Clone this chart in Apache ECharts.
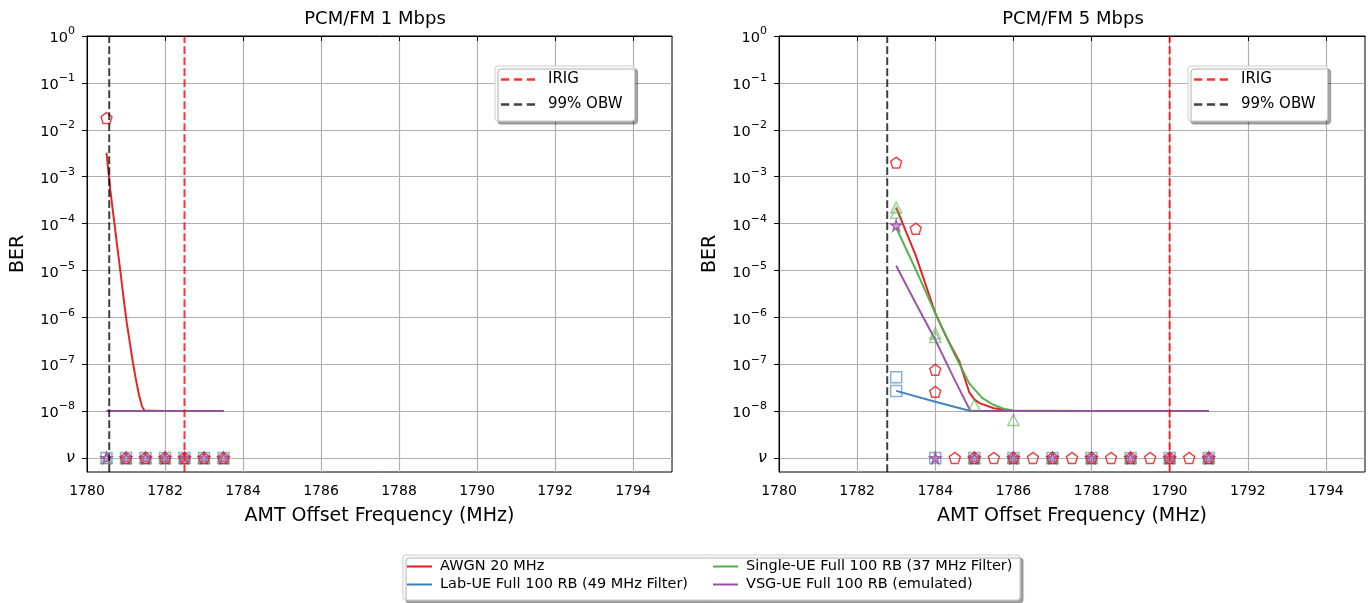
<!DOCTYPE html>
<html lang="en">
<head>
<meta charset="UTF-8">
<title>PCM/FM BER vs AMT offset frequency</title>
<script src="https://cdn.jsdelivr.net/npm/echarts@6/dist/echarts.min.js"></script>
<style>html,body{margin:0;padding:0;background:#fff;}</style>
</head>
<body>
<div id="main" style="width:1369px;height:603px;"></div>
<script>
// y values are log10(BER); the "ν" row (no bit errors) is drawn at -9
var NU = -9;
var yTicks = [-9, -8, -7, -6, -5, -4, -3, -2, -1, 0];
var xTicks = [1780, 1782, 1784, 1786, 1788, 1790, 1792, 1794];

// ---- PCM/FM 1 Mbps ----
var awgnLine1 = [[1780.5,-2.49],[1780.6,-3.3],[1780.68,-3.84],[1780.77,-4.45],[1780.85,-4.98],[1780.94,-5.6],[1781.02,-6.12],[1781.1,-6.55],[1781.18,-6.98],[1781.26,-7.35],[1781.34,-7.68],[1781.41,-7.9],[1781.47,-7.99],[1781.5,-8],[1782,-8],[1782.5,-8],[1783,-8],[1783.5,-8]];
var labLine1 = [[1780.5,-8],[1781,-8],[1782,-8],[1783,-8],[1783.5,-8]];
var singleLine1 = [[1780.5,-8],[1781,-8],[1782,-8],[1783,-8],[1783.5,-8]];
var vsgLine1 = [[1780.5,-8],[1781,-8],[1782,-8],[1783,-8],[1783.5,-8]];
var awgnPts1 = [[1780.5,-1.75]];
var awgnNu1 = [1781, 1781.5, 1782, 1782.5, 1783, 1783.5];
var labNu1 = [1780.5, 1781, 1781.5, 1782, 1782.5, 1783, 1783.5];
var singleNu1 = [1780.5, 1781, 1781.5, 1782, 1782.5, 1783, 1783.5];
var vsgNu1 = [1780.5, 1781, 1781.5, 1782, 1782.5, 1783, 1783.5];
var irig1 = 1782.5;
var obw1 = 1780.57;

// ---- PCM/FM 5 Mbps ----
var awgnLine5 = [[1783,-3.66],[1783.5,-4.68],[1784,-5.91],[1784.3,-6.45],[1784.62,-6.95],[1784.87,-7.6],[1785.0,-7.75],[1785.13,-7.83],[1785.5,-7.94],[1785.9,-7.99],[1786,-8],[1788,-8],[1791,-8]];
var labLine5 = [[1783,-7.57],[1784,-7.8],[1784.9,-8],[1786,-8],[1788,-8],[1791,-8]];
var singleLine5 = [[1783,-4.09],[1783.5,-4.98],[1784,-5.91],[1784.5,-6.8],[1784.87,-7.41],[1785.2,-7.72],[1785.47,-7.86],[1785.75,-7.95],[1786,-7.99],[1788,-8],[1791,-8]];
var vsgLine5 = [[1783,-4.9],[1783.5,-5.7],[1784,-6.48],[1784.5,-7.34],[1784.9,-8],[1786,-8],[1788,-8],[1791,-8]];
var awgnPts5 = [[1783,-2.7],[1783.5,-4.11],[1784,-7.12],[1784,-7.59]];
var labPts5 = [[1783,-7.28],[1783,-7.57]];
var singlePts5 = [[1783,-3.66],[1783,-3.77],[1784,-6.34],[1784,-6.42],[1785,-7.87],[1786,-8.19]];
var vsgPts5 = [[1783,-4.04]];
var awgnNu5 = [1784.5, 1785, 1785.5, 1786, 1786.5, 1787, 1787.5, 1788, 1788.5, 1789, 1789.5, 1790, 1790.5, 1791];
var labNu5 = [1784, 1785, 1786, 1787, 1788, 1789, 1790, 1791];
var singleNu5 = [1785, 1786, 1787, 1788, 1789, 1790, 1791];
var vsgNu5 = [1784, 1785, 1786, 1787, 1788, 1789, 1790, 1791];
var irig5 = 1790;
var obw5 = 1782.77;

var names = ['AWGN 20 MHz', 'Lab-UE Full 100 RB (49 MHz Filter)', 'Single-UE Full 100 RB (37 MHz Filter)', 'VSG-UE Full 100 RB (emulated)'];
var colors = ['#e41a1c', '#377eb8', '#4daf4a', '#984ea3'];

var YMIN = -9.3, YMAX = 0;
var FONT = 'DejaVu Sans';

var pentagon = 'path://M0,-1L0.951,-0.309L0.588,0.809L-0.588,0.809L-0.951,-0.309Z';
var star = 'path://M0,-1L0.225,-0.309L0.951,-0.309L0.363,0.118L0.588,0.809L0,0.382L-0.588,0.809L-0.363,0.118L-0.951,-0.309L-0.225,-0.309Z';
var solidIcon = 'path://M0,0H25V2H0Z';
var dashIcon = 'path://M0,0H8V2.2H0Z M12.5,0H20.5V2.2H12.5Z M25,0H33V2.2H25Z';

var myChart = echarts.init(document.getElementById('main'));

function lineSeries(i, data, gi) {
    return {
        type: 'line', name: names[i], xAxisIndex: gi, yAxisIndex: gi,
        data: data, symbol: 'none', silent: true, z: 3,
        lineStyle: {color: colors[i], width: 2, opacity: 0.95},
        itemStyle: {color: colors[i]}
    };
}

function markerSeries(i, sym, fill, stroke, pts, nuXs, gi) {
    var d = pts.concat(nuXs.map(function (x) { return [x, NU]; }));
    return {
        type: 'scatter', name: names[i] + ' pts', xAxisIndex: gi, yAxisIndex: gi,
        data: d, symbol: sym, symbolSize: 11, silent: true, z: 4,
        itemStyle: {color: fill, borderColor: stroke, borderWidth: 1.5}
    };
}

function vline(name, x, color, gi) {
    return {
        type: 'line', name: name, xAxisIndex: gi, yAxisIndex: gi,
        data: [[x, YMIN], [x, YMAX]], symbol: 'none', silent: true, z: 5,
        lineStyle: {color: color, width: 2, type: [7.7, 3.3]},
        itemStyle: {color: color}
    };
}

function markers(gi, set) {
    return [
        markerSeries(1, 'rect', 'rgba(0,0,0,0)', 'rgba(55,126,184,0.75)', set.lab, set.labNu, gi),
        markerSeries(2, 'triangle', 'rgba(0,0,0,0)', 'rgba(77,175,74,0.7)', set.single, set.singleNu, gi),
        markerSeries(3, star, 'rgba(152,78,163,0.6)', '#984ea3', set.vsg, set.vsgNu, gi),
        markerSeries(0, pentagon, 'rgba(0,0,0,0)', '#e41a1c', set.awgn, set.awgnNu, gi)
    ];
}

function yLabel(v) {
    if (v === NU) return '{nu|ν}';
    var e = v === 0 ? '0' : '\u2212' + (-v);
    return '{b|10}{s|' + e + '}';
}

var xAxisBase = {
    type: 'value', min: 1780, max: 1795,
    name: 'AMT Offset Frequency (MHz)', nameLocation: 'middle', nameGap: 35,
    nameTextStyle: {fontSize: 19, color: '#000', fontFamily: FONT},
    axisLine: {lineStyle: {color: '#000', width: 1}},
    axisTick: {length: 5, lineStyle: {color: '#000'}, customValues: xTicks},
    axisLabel: {fontSize: 14, color: '#000', fontFamily: FONT, margin: 12, customValues: xTicks,
        formatter: function (v) { return String(v); }},
    splitLine: {show: true, lineStyle: {color: '#b0b0b0', width: 1.2}}
};

var yAxisBase = {
    type: 'value', min: YMIN, max: YMAX,
    name: 'BER', nameLocation: 'middle', nameGap: 59,
    nameTextStyle: {fontSize: 19, color: '#000', fontFamily: FONT},
    axisLine: {lineStyle: {color: '#000', width: 1}},
    axisTick: {length: 5, lineStyle: {color: '#000'}, customValues: yTicks},
    axisLabel: {
        color: '#000', fontFamily: FONT, margin: 12, customValues: yTicks,
        formatter: yLabel,
        rich: {
            b: {fontSize: 14.5, fontFamily: FONT, color: '#000', lineHeight: 20, verticalAlign: 'bottom'},
            s: {fontSize: 11, fontFamily: FONT, color: '#000', lineHeight: 8, verticalAlign: 'top'},
            nu: {fontSize: 16, fontFamily: FONT, fontStyle: 'italic', color: '#000'}
        }
    },
    splitLine: {show: true, lineStyle: {color: '#b0b0b0', width: 1.2}}
};

var refLegend = {
    orient: 'vertical', top: 66, selectedMode: false,
    data: [{name: 'IRIG', icon: dashIcon}, {name: '99% OBW', icon: dashIcon}],
    itemWidth: 34, itemHeight: 14, itemGap: 10,
    padding: [6, 12, 9, 6],
    backgroundColor: '#fff', borderColor: '#cccccc', borderWidth: 1, borderRadius: 3,
    shadowColor: 'rgba(0,0,0,0.35)', shadowBlur: 1, shadowOffsetX: 3, shadowOffsetY: 3,
    textStyle: {fontSize: 15, color: '#000', fontFamily: FONT, padding: [0, 0, 0, 8]}
};

// bottom legend: two columns, drawn inside one shared box
var mainLegend = {
    orient: 'vertical', top: 559, selectedMode: false, padding: 0,
    itemWidth: 25, itemHeight: 16, itemGap: 3,
    textStyle: {fontSize: 14.5, color: '#000', fontFamily: FONT, padding: [0, 0, 0, 3]}
};

var set1 = {awgn: awgnPts1, awgnNu: awgnNu1, lab: [], labNu: labNu1, single: [], singleNu: singleNu1, vsg: [], vsgNu: vsgNu1};
var set5 = {awgn: awgnPts5, awgnNu: awgnNu5, lab: labPts5, labNu: labNu5, single: singlePts5, singleNu: singleNu5, vsg: vsgPts5, vsgNu: vsgNu5};

var series = [
    lineSeries(0, awgnLine1, 0), lineSeries(1, labLine1, 0), lineSeries(2, singleLine1, 0), lineSeries(3, vsgLine1, 0),
    lineSeries(0, awgnLine5, 1), lineSeries(1, labLine5, 1), lineSeries(2, singleLine5, 1), lineSeries(3, vsgLine5, 1)
].concat(markers(0, set1), markers(1, set5), [
    vline('IRIG', irig1, 'rgba(255,0,0,0.8)', 0),
    vline('99% OBW', obw1, 'rgba(0,0,0,0.75)', 0),
    vline('IRIG', irig5, 'rgba(255,0,0,0.8)', 1),
    vline('99% OBW', obw5, 'rgba(0,0,0,0.75)', 1)
]);

myChart.setOption({
    animation: false,
    textStyle: {fontFamily: FONT},
    graphic: [
        {type: 'text', x: 375, y: 19, style: {text: 'PCM/FM 1 Mbps', font: '18px "DejaVu Sans"', fill: '#000', textAlign: 'center', textVerticalAlign: 'middle'}},
        {type: 'text', x: 1073, y: 19, style: {text: 'PCM/FM 5 Mbps', font: '18px "DejaVu Sans"', fill: '#000', textAlign: 'center', textVerticalAlign: 'middle'}},
        {type: 'rect', shape: {x: 403, y: 555, width: 617, height: 45, r: 3}, z: 0,
            style: {fill: '#fff', stroke: '#cccccc', lineWidth: 1, shadowColor: 'rgba(0,0,0,0.35)', shadowBlur: 1, shadowOffsetX: 3, shadowOffsetY: 3}}
    ],
    grid: [
        {left: 87, top: 36, width: 585, height: 436, show: true, borderColor: '#000', borderWidth: 1, backgroundColor: 'transparent'},
        {left: 779, top: 36, width: 586, height: 436, show: true, borderColor: '#000', borderWidth: 1, backgroundColor: 'transparent'}
    ],
    xAxis: [
        echarts.util.merge({gridIndex: 0}, xAxisBase, true),
        echarts.util.merge({gridIndex: 1}, xAxisBase, true)
    ],
    yAxis: [
        echarts.util.merge({gridIndex: 0}, yAxisBase, true),
        echarts.util.merge({gridIndex: 1}, yAxisBase, true)
    ],
    legend: [
        echarts.util.merge({left: 495}, refLegend, true),
        echarts.util.merge({left: 1188}, refLegend, true),
        echarts.util.merge({left: 407, data: [names[0], names[1]].map(function (n) { return {name: n, icon: solidIcon}; })}, mainLegend, true),
        echarts.util.merge({left: 713, data: [names[2], names[3]].map(function (n) { return {name: n, icon: solidIcon}; })}, mainLegend, true)
    ],
    series: series
});
</script>
</body>
</html>
